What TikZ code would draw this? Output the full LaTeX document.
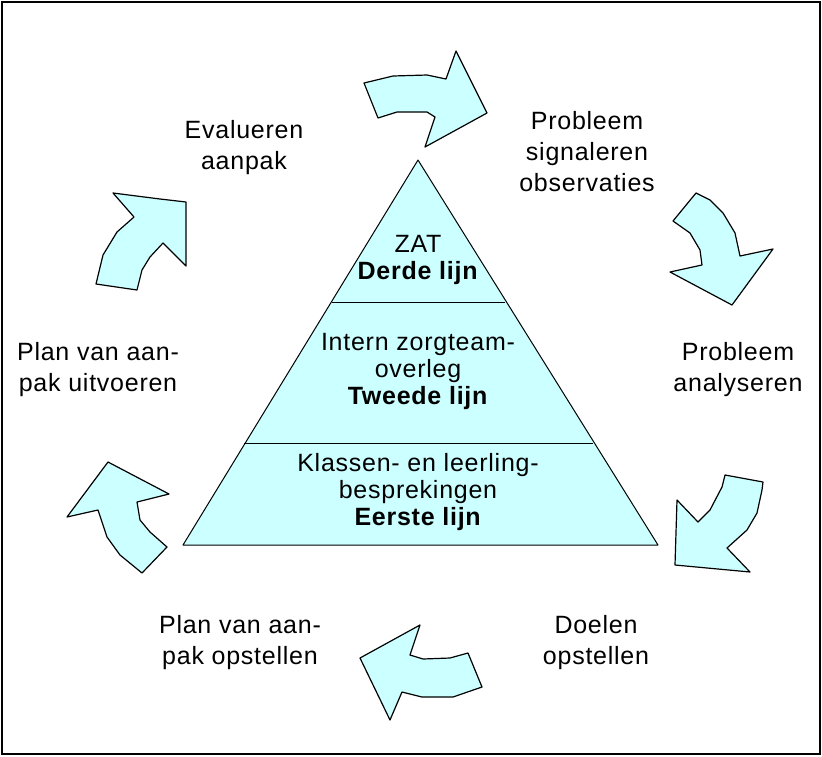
\documentclass[tikz,border=0pt]{standalone}
\usepackage{fontspec}
\setmainfont{Liberation Sans}[LetterSpace=3]
\usepackage{tikz}
\usetikzlibrary{positioning}
\definecolor{lichtblauw}{RGB}{204,255,255}
\tikzset{
  pijl/.style={draw=black,fill=lichtblauw,line width=1.2pt,line join=round},
  fase/.style={align=center,font=\fontsize{25}{31}\selectfont},
  lijn/.style={align=center,font=\fontsize{25}{27}\selectfont}
}

\begin{document}
\begin{tikzpicture}[x=1pt,y=-1pt]
    \useasboundingbox (0,0) rectangle (822,756);
    \draw [line width=1.5pt] (2,2) rectangle (820,754);
    % piramide
    \coordinate (top) at (418,160);
    \coordinate (linksonder) at (183,545);
    \coordinate (rechtsonder) at (658,545);
    \filldraw [pijl,line width=1pt] (top) -- (rechtsonder) -- (linksonder) -- cycle;
    \draw [line width=1pt] (332,302) -- (505,302);
    \draw [line width=1pt] (244,443) -- (593,443);
    \node [lijn] (derde) at (418,260) {ZAT\\\textbf{Derde lijn}};
    \node [lijn] (tweede) at (418,371) {Intern zorgteam-\\overleg\\\textbf{Tweede lijn}};
    \node [lijn] (eerste) at (418,492) {Klassen- en leerling-\\besprekingen\\\textbf{Eerste lijn}};
    % fasen
    \node [fase] (evalueren) at (244,148) {Evalueren\\aanpak};
    \node [fase] (signaleren) at (587,152) {Probleem\\signaleren\\observaties};
    \node [fase] (analyseren) at (738,370) {Probleem\\analyseren};
    \node [fase] (doelen) at (596,643) {Doelen\\opstellen};
    \node [fase] (opstellen) at (240,643) {Plan van aan-\\pak opstellen};
    \node [fase] (uitvoeren) at (98,370) {Plan van aan-\\pak uitvoeren};
    % pijlen
    \filldraw [pijl] (364,83) -- (393,76) -- (427,75) -- (446,79) -- (456,51) -- (487,113)
        -- (425,147) -- (435,117) -- (427,112) -- (397,112) -- (378,118) -- cycle;
    \filldraw [pijl] (673,221) -- (696,193) -- (710,200) -- (723,213) -- (735,233) -- (740,256)
        -- (773,249) -- (732,305) -- (670,272) -- (702,265) -- (700,250) -- (690,233) -- cycle;
    \filldraw [pijl] (725,475) -- (763,482) -- (762,490) -- (757,513) -- (747,530) -- (727,548)
        -- (750,572) -- (675,565) -- (677,500) -- (698,522) -- (710,510) -- (722,487) -- cycle;
    \filldraw [pijl] (360,658) -- (420,625) -- (410,655) -- (423,659) -- (450,658) -- (468,653)
        -- (482,687) -- (453,697) -- (422,697) -- (402,692) -- (390,720) -- cycle;
    \filldraw [pijl] (108,462) -- (169,494) -- (137,502) -- (140,520) -- (150,532) -- (167,547)
        -- (142,573) -- (120,555) -- (107,537) -- (98,510) -- (67,517) -- cycle;
    \filldraw [pijl] (96,284) -- (137,290) -- (142,270) -- (150,257) -- (163,243) -- (186,266)
        -- (186,202) -- (160,199) -- (113,193) -- (134,217) -- (117,232) -- (103,255) -- cycle;
\end{tikzpicture}
\end{document}
